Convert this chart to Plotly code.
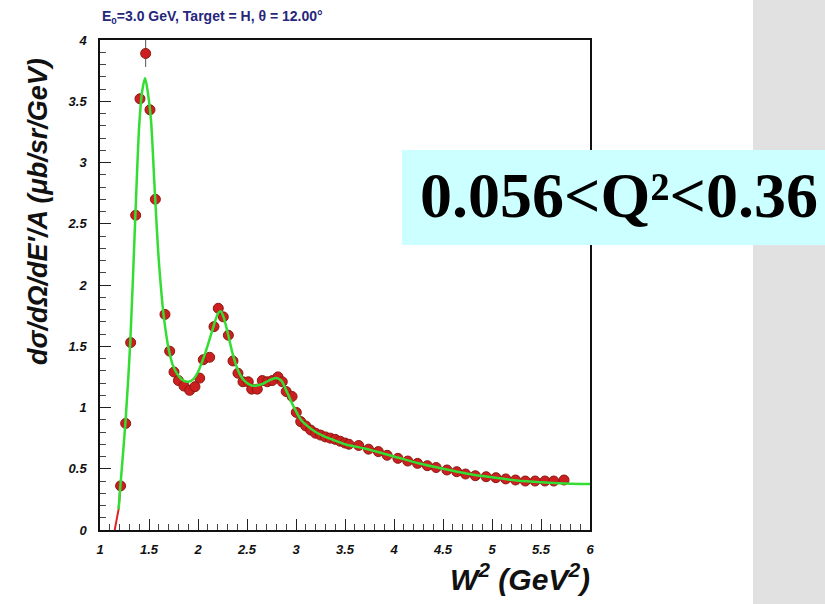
import plotly.graph_objects as go

# ---- data points (W^2 in GeV^2, cross section) ----
w2_data = [1.21, 1.262, 1.313, 1.364, 1.408, 1.466, 1.51, 1.565, 1.663, 1.711,
           1.755, 1.80, 1.857, 1.915, 1.969, 2.017, 2.054, 2.119, 2.163, 2.207,
           2.258, 2.31, 2.357, 2.408, 2.459, 2.513, 2.548, 2.605, 2.656, 2.707,
           2.758, 2.816, 2.86, 2.90, 2.96, 3.003, 3.048, 3.099, 3.15, 3.20,
           3.25, 3.30, 3.35, 3.40, 3.45, 3.50, 3.54, 3.64, 3.74, 3.84,
           3.93, 4.04, 4.14, 4.24, 4.34, 4.43, 4.54, 4.64, 4.73, 4.83,
           4.94, 5.04, 5.14, 5.24, 5.34, 5.44, 5.54, 5.63, 5.735]
xs_data = [0.36, 0.87, 1.53, 2.57, 3.52, 3.89, 3.43, 2.70, 1.76, 1.46,
           1.29, 1.22, 1.175, 1.14, 1.17, 1.24, 1.39, 1.41, 1.66, 1.81,
           1.74, 1.59, 1.38, 1.28, 1.21, 1.21, 1.15, 1.15, 1.22, 1.21,
           1.22, 1.25, 1.21, 1.13, 1.09, 0.96, 0.885, 0.85, 0.816, 0.79,
           0.775, 0.76, 0.75, 0.74, 0.725, 0.71, 0.70, 0.69, 0.66, 0.64,
           0.61, 0.585, 0.563, 0.544, 0.525, 0.51, 0.49, 0.476, 0.457, 0.443,
           0.435, 0.427, 0.417, 0.408, 0.40, 0.40, 0.40, 0.40, 0.408]
xs_err = [0.0] * 5 + [0.11] + [0.0] * 63

# ---- model curve ----
w2_model = [1.19, 1.21, 1.26, 1.31, 1.36, 1.40, 1.43, 1.46, 1.49, 1.52,
            1.56, 1.60, 1.65, 1.70, 1.75, 1.80, 1.85, 1.90, 1.95, 2.00,
            2.05, 2.10, 2.15, 2.20, 2.23, 2.26, 2.30, 2.35, 2.40, 2.45,
            2.50, 2.55, 2.60, 2.65, 2.70, 2.75, 2.80, 2.85, 2.90, 2.95,
            3.00, 3.05, 3.10, 3.20, 3.30, 3.40, 3.50, 3.70, 4.00, 4.25,
            4.50, 4.75, 5.00, 5.25, 5.50, 5.75, 6.00]
xs_model = [0.17, 0.38, 0.88, 1.55, 2.55, 3.30, 3.58, 3.69, 3.56, 3.35,
            2.75, 2.20, 1.75, 1.48, 1.33, 1.26, 1.22, 1.21, 1.23, 1.29,
            1.39, 1.51, 1.64, 1.76, 1.785, 1.74, 1.62, 1.45, 1.32, 1.24,
            1.20, 1.18, 1.18, 1.19, 1.21, 1.23, 1.24, 1.22, 1.14, 1.05,
            0.97, 0.90, 0.86, 0.80, 0.76, 0.73, 0.70, 0.665, 0.60, 0.545,
            0.50, 0.46, 0.43, 0.405, 0.39, 0.38, 0.375]
# low-W tail of the model (drawn red)
w2_tail = [1.15, 1.17, 1.19, 1.21]
xs_tail = [0.0, 0.08, 0.17, 0.38]

x_ticks = [1, 1.5, 2, 2.5, 3, 3.5, 4, 4.5, 5, 5.5, 6]
x_ticklabels = ["1", "1.5", "2", "2.5", "3", "3.5", "4", "4.5", "5", "5.5", "6"]
y_ticks = [0, 0.5, 1, 1.5, 2, 2.5, 3, 3.5, 4]
y_ticklabels = ["0", "0.5", "1", "1.5", "2", "2.5", "3", "3.5", "4"]

fig = go.Figure()

fig.add_trace(go.Scatter(x=w2_tail, y=xs_tail, mode="lines",
                         line=dict(color="#dd2222", width=2), hoverinfo="skip"))
fig.add_trace(go.Scatter(x=w2_data, y=xs_data, mode="markers",
                         marker=dict(size=10, color="#cc1f1f",
                                     line=dict(color="#8a1a10", width=1)),
                         error_y=dict(type="data", array=xs_err, visible=True,
                                      color="#555555", thickness=1, width=0)))
fig.add_trace(go.Scatter(x=w2_model, y=xs_model, mode="lines",
                         line=dict(color="#33dd33", width=2.5, shape="spline",
                                   smoothing=0.8)))

def px2x(px):
    return (px - 100) / 490.0

def py2y(py):
    return (530 - py) / 490.0

shapes = [
    dict(type="rect", xref="paper", yref="paper", layer="below",
         x0=px2x(753), x1=px2x(830), y0=py2y(610), y1=py2y(-5),
         fillcolor="#e1e1e1", line=dict(width=0)),
    dict(type="rect", xref="paper", yref="paper", layer="above",
         x0=px2x(402), x1=px2x(830), y0=py2y(245), y1=py2y(150),
         fillcolor="#ccffff", line=dict(width=0)),
]

annotations = [
    dict(text="0.056&lt;Q²&lt;0.36", xref="paper", yref="paper",
         x=px2x(619), y=py2y(195), xanchor="center", yanchor="middle",
         showarrow=False,
         font=dict(family="Liberation Serif", size=64, color="black", weight="bold")),
    dict(text="E<sub>0</sub>=3.0 GeV, Target = H, θ = 12.00°", xref="paper", yref="paper",
         x=px2x(100), y=py2y(17), xanchor="left", yanchor="middle", showarrow=False,
         font=dict(family="Liberation Sans", size=14, color="#26267a", weight="bold")),
    dict(text="dσ/dΩ/dE′/A (μb/sr/GeV)", xref="paper", yref="paper",
         x=px2x(38), y=py2y(212), xanchor="center", yanchor="middle",
         textangle=-90, showarrow=False,
         font=dict(family="Liberation Sans", size=27, color="#111111",
                   weight="bold", style="italic")),
    dict(text="W<sup>2</sup> (GeV<sup>2</sup>)", xref="paper", yref="paper",
         x=px2x(592), y=py2y(577), xanchor="right", yanchor="middle",
         showarrow=False,
         font=dict(family="Liberation Sans", size=30, color="#111111",
                   weight="bold", style="italic")),
]

tickfont = dict(family="Liberation Sans", size=13, color="#111111",
                weight="bold", style="italic")

fig.update_layout(
    width=825, height=604,
    margin=dict(l=100, r=235, t=40, b=74),
    paper_bgcolor="white", plot_bgcolor="white",
    showlegend=False,
    shapes=shapes, annotations=annotations,
    xaxis=dict(range=[1, 6], tickvals=x_ticks, ticktext=x_ticklabels,
               ticks="inside", ticklen=11, tickwidth=1, tickcolor="#222222",
               minor=dict(dtick=0.1, ticks="inside", ticklen=6, tickwidth=1,
                          tickcolor="#444444"),
               showgrid=False, zeroline=False, showline=True, linecolor="#111111",
               linewidth=1.5, mirror=True, tickfont=tickfont, ticklabelstandoff=7),
    yaxis=dict(range=[0, 4], tickvals=y_ticks, ticktext=y_ticklabels,
               ticks="inside", ticklen=11, tickwidth=1, tickcolor="#222222",
               minor=dict(dtick=0.1, ticks="inside", ticklen=6, tickwidth=1,
                          tickcolor="#444444"),
               showgrid=False, zeroline=False, showline=True, linecolor="#111111",
               linewidth=1.5, mirror=True, tickfont=tickfont, ticklabelstandoff=9),
)

fig.write_html("out.html")
